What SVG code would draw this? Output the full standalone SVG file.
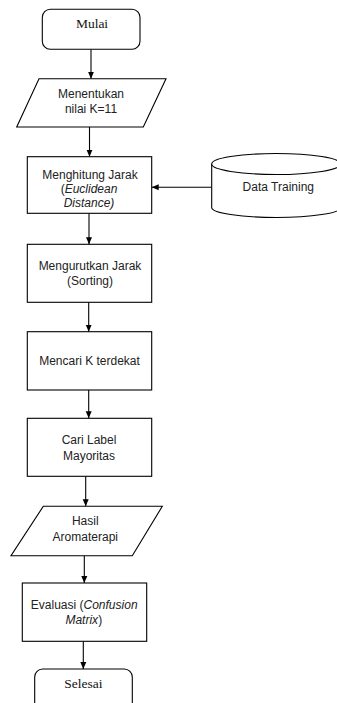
<svg xmlns="http://www.w3.org/2000/svg" width="337" height="703" viewBox="0 0 337 703">
<style>
.shape{fill:#fff;stroke:#000;stroke-width:1.1}
.conn{fill:none;stroke:#000;stroke-width:1.1}
.t{font-family:"Liberation Sans",Arial,sans-serif;font-size:12px;fill:#222;text-anchor:middle}
.s{font-family:"Liberation Serif","Times New Roman",serif;font-size:13.5px;fill:#111;text-anchor:middle}
.i{font-style:italic}
</style>
<defs>
<marker id="ah" markerUnits="userSpaceOnUse" markerWidth="8" markerHeight="8" viewBox="0 0 8 8" refX="7" refY="4" orient="auto">
<path d="M0,1 L7,4 L0,7 Z" fill="#000"/>
</marker>
</defs>
<rect width="337" height="703" fill="#fff"/>
<g id="connectors">
<line class="conn" x1="91" y1="49.3" x2="91" y2="78.7" marker-end="url(#ah)"/>
<line class="conn" x1="89.5" y1="127" x2="89.5" y2="156.7" marker-end="url(#ah)"/>
<line class="conn" x1="89" y1="213.3" x2="89" y2="244.3" marker-end="url(#ah)"/>
<line class="conn" x1="88.7" y1="302.3" x2="88.7" y2="331.7" marker-end="url(#ah)"/>
<line class="conn" x1="88.7" y1="390" x2="88.7" y2="418.3" marker-end="url(#ah)"/>
<line class="conn" x1="85.7" y1="476.3" x2="85.7" y2="506.3" marker-end="url(#ah)"/>
<line class="conn" x1="84.3" y1="555.7" x2="84.3" y2="583" marker-end="url(#ah)"/>
<line class="conn" x1="83.3" y1="641.3" x2="83.3" y2="669" marker-end="url(#ah)"/>
<line class="conn" x1="211.7" y1="187.3" x2="151.7" y2="187.3" marker-end="url(#ah)"/>
</g>
<g id="mulai">
<rect class="shape" x="42.3" y="9.3" width="97.7" height="40" rx="8"/>
<text class="s" x="92" y="28">Mulai</text>
</g>
<g id="menentukan">
<polygon class="shape" points="39,78.7 166,78.7 143.3,127 16.7,127"/>
<text class="t" x="91" y="97.5">Menentukan</text>
<text class="t" x="91" y="112.5">nilai K=11</text>
</g>
<g id="menghitung">
<rect class="shape" x="27.3" y="156.7" width="124.4" height="56.6"/>
<text class="t" x="90" y="178.5">Menghitung Jarak</text>
<text class="t" x="89" y="192.5">(<tspan class="i">Euclidean</tspan></text>
<text class="t i" x="89" y="206.5">Distance)</text>
</g>
<g id="data-training">
<path class="shape" d="M211.7,164 L211.7,207.5 A64.5,10 0 0 0 340.7,207.5 L340.7,164"/>
<ellipse class="shape" cx="276.2" cy="164" rx="64.5" ry="10.5"/>
<text class="t" x="278.3" y="191">Data Training</text>
</g>
<g id="mengurutkan">
<rect class="shape" x="27.3" y="244.3" width="124.4" height="58"/>
<text class="t" x="90" y="270">Mengurutkan Jarak</text>
<text class="t" x="90" y="285">(Sorting)</text>
</g>
<g id="mencari">
<rect class="shape" x="27.3" y="331.7" width="124.4" height="58.3"/>
<text class="t" x="89.5" y="365">Mencari K terdekat</text>
</g>
<g id="cari-label">
<rect class="shape" x="27.3" y="418.3" width="124.4" height="58"/>
<text class="t" x="89" y="443.5">Cari Label</text>
<text class="t" x="89" y="459.5">Mayoritas</text>
</g>
<g id="hasil">
<polygon class="shape" points="43.3,506.3 162.3,506.3 132.3,555.7 11,555.7"/>
<text class="t" x="85.3" y="525">Hasil</text>
<text class="t" x="85.3" y="541">Aromaterapi</text>
</g>
<g id="evaluasi">
<rect class="shape" x="22.3" y="583" width="124.4" height="58.3"/>
<text class="t" x="84.2" y="608.7">Evaluasi (<tspan class="i">Confusion</tspan></text>
<text class="t" x="83.8" y="624"><tspan class="i">Matrix</tspan>)</text>
</g>
<g id="selesai">
<rect class="shape" x="34.7" y="669" width="97.6" height="50" rx="8"/>
<text class="s" x="83.3" y="688">Selesai</text>
</g>
</svg>
